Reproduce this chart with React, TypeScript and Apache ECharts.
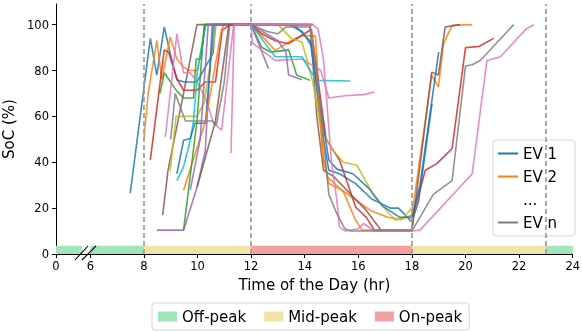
import React, { useEffect, useRef } from "react";
import * as echarts from "echarts";

// ---- axis / tick data ----
const X_MIN = 4.72; // compressed start of the broken axis, labelled "0"
const X_MAX = 24;
const X_TICKS = [X_MIN, 6, 8, 10, 12, 14, 16, 18, 20, 22, 24];
const Y_TICKS = [0, 20, 40, 60, 80, 100];
const Y_MAX = 109;
const DASH_HOURS = [8, 12, 18, 23];

// ---- tariff bands [start hour, end hour] ----
const BAND_TOP = 3.6;
const offPeak = [[X_MIN, 5.7], [6, 8], [23, 24]];
const midPeak = [[8, 12], [18, 23]];
const onPeak = [[12, 18]];

// ---- EV state-of-charge trajectories [hour, SoC %] ----
const ev1 = [[7.49,26.5],[8.24,94],[8.48,78],[8.76,99],[8.98,87.5],[9.23,76],[9.5,75],[9.98,75],[10.58,87.5],[10.67,100],[12,100],[13.4,100],[13.9,97],[14.3,90],[14.55,60],[14.9,36.5],[15.3,35],[15.9,30.7],[16.5,24],[17.2,20],[17.5,20],[18,14],[18.25,23],[18.75,65.6]];
const ev2 = [[8.0,50],[8.16,70],[8.48,93],[8.67,76],[8.98,94.6],[9.23,85],[9.48,81.5],[9.7,80],[10.0,80],[10.3,100],[12,100],[12.9,88.8],[13.4,92.4],[13.9,95.3],[14.4,95],[14.7,41],[14.9,30.7],[15.4,27.8],[16.45,19],[17.1,16],[17.6,15],[18,17],[18.74,78],[18.99,72.8],[19.18,91.7],[19.5,99.7],[20.25,100]];
const ev3 = [[8.6,70],[8.76,79],[9.23,71],[9.48,68],[9.85,68],[9.95,85],[10.1,85],[10.3,100],[12,100],[12.4,90],[12.75,88],[13.4,89],[13.7,78],[14.2,75.7]];
const ev4 = [[8.24,41],[8.76,89],[8.92,88],[9.23,76.5],[9.48,71.4],[9.98,71.4],[10.29,75],[10.67,75],[10.92,97.5],[11.17,99.7],[12,100],[12.4,96],[12.9,93],[13.4,91.7],[13.8,94.6],[14.25,98],[14.45,80],[14.8,50],[15.3,41],[15.9,20.5],[16.3,16],[16.6,10.4],[18,10.4],[18.06,17.7],[18.5,36.5],[18.93,39.4],[19.5,46],[20.0,90],[20.5,90.5],[21.05,94]];
const ev5 = [[8.48,10.4],[9.48,10.4],[9.98,29],[10.29,45],[10.55,100],[12,100],[12.65,80.8]];
const ev6 = [[8.7,17],[8.9,36.5],[9.48,70],[9.98,100],[12,100],[14.2,100],[14.45,60],[14.7,36.5],[15.1,33.6],[15.8,25],[16.3,19],[16.85,10.4],[18,10.4],[18.74,79.3],[18.99,78],[19.24,99],[19.8,100]];
const ev7 = [[8.8,51],[9.23,96],[9.48,79],[9.73,79],[9.98,75],[10.3,68],[10.6,57],[10.9,54],[11.35,100],[12,100],[12.05,92],[12.9,84.4],[13.9,85],[14.4,81.5],[14.6,80],[14.9,68],[15.5,69],[16.2,69.5],[16.6,70.6]];
const ev8 = [[9.0,50],[9.17,70],[9.55,58],[10.55,58],[10.7,56],[11.0,75],[11.2,100],[12,100],[14.3,100]];
const ev9 = [[8.98,36],[9.2,60],[9.98,60],[10.25,66],[10.7,100],[12,100],[13.0,100],[13.5,94],[13.9,92.4],[14.3,75],[14.6,55],[15.0,46],[15.45,40],[15.95,38.7],[16.6,25],[17.2,17],[17.4,14.7],[17.7,16],[18.0,20],[18.1,24]];
const ev10 = [[9.23,32],[9.48,38],[9.73,49.6],[9.85,58],[10.0,80],[10.3,100],[12,100],[12.9,86],[13.9,86],[14.2,80],[14.45,75.7],[15.7,75.4]];
const ev11 = [[9.23,35],[9.48,49.6],[9.73,50.4],[9.9,57],[10.3,57],[10.6,100],[12,100],[13.6,100],[14.2,93],[14.5,70],[14.9,41],[15.2,37],[15.8,35],[16.4,28.5],[16.9,21],[17.55,16],[18,16],[18.3,30],[19.0,88]];
const ev12 = [[9.48,27.8],[10.3,58],[10.9,98],[11.0,100],[12,100],[14.2,100],[14.45,80],[14.65,45],[14.85,33.6],[15.45,27],[15.9,14.7],[16.15,10.4],[18,10.4]];
const ev13 = [[9.48,10.4],[9.98,58],[10.25,100],[12,100]];
const ev15 = [[9.73,28],[10.1,50],[10.4,100],[12,100],[13.0,93],[13.3,88],[13.4,78],[13.9,76]];
const ev16 = [[9.98,29],[10.67,58],[11.17,100],[12,100],[14.3,100]];
const ev17 = [[11.25,44],[11.37,100],[12,100],[14.3,100],[14.5,98],[14.7,85],[15.0,40],[15.2,23.4],[15.3,11.8],[15.5,10],[16.0,11],[16.2,13.3],[16.6,10],[18,10],[18.3,10.4],[20.25,35],[20.8,84.4],[21.3,86],[22.25,98],[22.55,100]];
const evN = [[12,100],[12.6,97],[13.0,96],[13.3,99],[14.2,99],[14.45,80],[14.9,26],[15.2,17.6],[15.5,11],[15.7,10],[18,10],[18.8,26],[19.5,32],[20.0,82],[20.25,82.5],[20.55,84.4],[21.8,100]];

const C = {
  blue: "#1f77b4", orange: "#ff7f0e", green: "#2ca02c", red: "#d62728", purple: "#9467bd",
  brown: "#8c564b", pink: "#e377c2", gray: "#7f7f7f", olive: "#bcbd22", cyan: "#17becf",
};

const EV_SERIES: [string, number[][], string][] = [
  ["EV 1", ev1, C.blue],
  ["EV 2", ev2, C.orange],
  ["EV 3", ev3, C.green],
  ["EV 4", ev4, C.red],
  ["EV 5", ev5, C.purple],
  ["EV 6", ev6, C.brown],
  ["EV 7", ev7, C.pink],
  ["EV 8", ev8, C.gray],
  ["EV 9", ev9, C.olive],
  ["EV 10", ev10, C.cyan],
  ["EV 11", ev11, C.blue],
  ["EV 12", ev12, C.orange],
  ["EV 13", ev13, C.green],
  ["EV 15", ev15, C.purple],
  ["EV 16", ev16, C.brown],
  ["EV 17", ev17, C.pink],
  ["EV n", evN, C.gray],
];

const FONT = "DejaVu Sans";
const LINE_ICON = "path://M0,0H20V2H0Z";

function bandSeries(name: string, data: number[][], color: string, extra: any = {}) {
  return {
    name,
    type: "custom",
    data,
    itemStyle: { color },
    encode: { x: [0, 1] },
    z: 1,
    renderItem: (params: any, api: any) => {
      const s = api.coord([api.value(0), 0]);
      const e = api.coord([api.value(1), BAND_TOP]);
      return {
        type: "rect",
        shape: { x: s[0], y: e[1], width: e[0] - s[0], height: s[1] - e[1] },
        style: { fill: color },
      };
    },
    ...extra,
  };
}

export default function App() {
  const ref = useRef<HTMLDivElement>(null);
  useEffect(() => {
    if (!ref.current) return;
    const chart = echarts.init(ref.current, undefined, { renderer: "svg" });
    const lineSeries = EV_SERIES.map(([name, data, color]) => ({
      name,
      type: "line",
      data,
      symbol: "none",
      showSymbol: false,
      color,
      lineStyle: { width: 1.6, opacity: 0.85, color },
      itemStyle: { color },
      z: 3,
      silent: true,
    }));
    chart.setOption({
      animation: false,
      textStyle: { fontFamily: FONT },
      grid: { left: 56, right: 9.3, top: 4, bottom: 78, containLabel: false, outerBoundsMode: "none" },
      xAxis: {
        type: "value",
        min: X_MIN,
        max: X_MAX,
        name: "Time of the Day (hr)",
        nameLocation: "middle",
        nameGap: 23,
        nameTextStyle: { fontSize: 15, color: "#000", fontFamily: FONT },
        axisLine: { lineStyle: { color: "#000", width: 1 } },
        axisTick: { show: true, length: 4, lineStyle: { color: "#000" }, customValues: X_TICKS },
        axisLabel: {
          customValues: X_TICKS,
          fontSize: 11.5,
          color: "#000",
          fontFamily: FONT,
          margin: 6,
          formatter: (v: number) => (v < 5 ? "0" : String(v)),
        },
        splitLine: { show: false },
      },
      yAxis: {
        type: "value",
        min: 0,
        max: Y_MAX,
        name: "SoC (%)",
        nameLocation: "middle",
        nameGap: 31,
        nameTextStyle: { fontSize: 15, color: "#000", fontFamily: FONT },
        axisLine: { show: true, lineStyle: { color: "#000", width: 1 } },
        axisTick: { show: true, length: 4, lineStyle: { color: "#000" }, customValues: Y_TICKS },
        axisLabel: { customValues: Y_TICKS, fontSize: 11.5, color: "#000", fontFamily: FONT, margin: 7 },
        splitLine: { show: false },
      },
      legend: [
        {
          data: [
            { name: "EV 1", icon: LINE_ICON },
            { name: "EV 2", icon: LINE_ICON },
            { name: "...", icon: "none" },
            { name: "EV n", icon: LINE_ICON },
          ],
          orient: "vertical",
          left: 493,
          top: 140,
          padding: [6, 18, 6, 5],
          itemWidth: 20,
          itemHeight: 14,
          itemGap: 8,
          selectedMode: false,
          backgroundColor: "#fff",
          borderColor: "#d5d5d5",
          borderWidth: 1,
          borderRadius: 3,
          textStyle: { fontSize: 15, color: "#000", fontFamily: FONT },
        },
        {
          data: ["Off-peak", "Mid-peak", "On-peak"],
          icon: "rect",
          orient: "horizontal",
          left: 152,
          top: 303,
          padding: [6, 7, 6, 6],
          itemWidth: 19,
          itemHeight: 10,
          itemGap: 18,
          selectedMode: false,
          backgroundColor: "#fff",
          borderColor: "#d5d5d5",
          borderWidth: 1,
          borderRadius: 3,
          textStyle: { fontSize: 15, color: "#000", fontFamily: FONT },
        },
      ],
      series: [
        bandSeries("Off-peak", offPeak, "#a3e4bb", {
          markLine: {
            silent: true,
            symbol: ["none", "none"],
            label: { show: false },
            z: 5,
            lineStyle: { color: "#a0a0a0", type: [5, 3], width: 1.8 },
            data: DASH_HOURS.map((h) => ({ xAxis: h })),
          },
        }),
        bandSeries("Mid-peak", midPeak, "#f0e5a6"),
        bandSeries("On-peak", onPeak, "#f2a0a0"),
        ...lineSeries,
        { name: "...", type: "line", data: [], symbol: "none", color: "transparent", lineStyle: { width: 0 } },
      ],
      graphic: [
        { type: "line", z: 100, shape: { x1: 75, y1: 260, x2: 88, y2: 246 }, style: { stroke: "#000", lineWidth: 1.1 } },
        { type: "line", z: 100, shape: { x1: 82, y1: 260, x2: 96, y2: 246 }, style: { stroke: "#000", lineWidth: 1.1 } },
      ],
    });
    return () => chart.dispose();
  }, []);
  return <div ref={ref} style={{ position: "fixed", left: 0, top: 0, width: 582, height: 332 }} />;
}
